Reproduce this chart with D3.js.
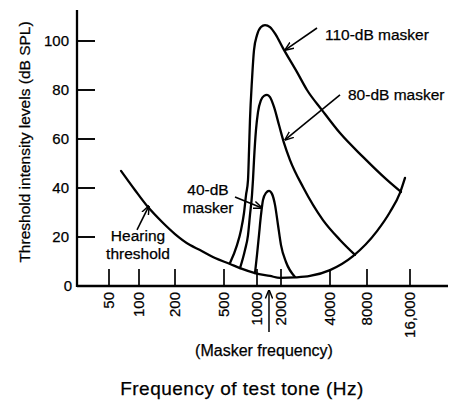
<!DOCTYPE html>
<html><head><meta charset="utf-8">
<script src="https://cdn.jsdelivr.net/npm/d3@7"></script>
<style>
html,body{margin:0;padding:0;background:#fff;}
text{font-family:"Liberation Sans",Arial,sans-serif;fill:#000;stroke:#000;stroke-width:0.25px;}
</style></head>
<body><svg id="chart" width="449" height="400"></svg>
<script>
// ---- data ----
const xTickValues = [50, 100, 200, 500, 1000, 2000, 4000, 8000, 16000];
const xTickLabels = ["50", "100", "200", "500", "1000", "2000", "4000", "8000", "16,000"];
const yTickValues = [0, 20, 40, 60, 80, 100];

// hearing threshold: [frequency Hz, dB SPL]
const thresholdFreq = [66, 91, 119, 156, 200, 265, 319, 423, 567, 700, 959, 1456, 1943, 2438, 3014, 4000, 6155, 9401, 11592, 13619, 14760];
const thresholdDb   = [47, 39.2, 32.2, 26.1, 21.2, 16.7, 14.7, 11.4, 9.0, 7.3, 5.3, 4.1, 3.3, 3.5, 4.1, 6.5, 12.2, 22.4, 30.2, 38.0, 44.1];

const masker110Freq = [567, 657, 715, 761, 794, 828, 846, 863, 900, 939, 1000, 1122, 1260, 1456, 1731, 2057, 2509, 2890, 3572, 4825, 7421, 11042, 13840];
const masker110Db   = [9.4, 16.7, 22.9, 29.8, 37.1, 43.3, 55.5, 67.8, 84.1, 96.3, 102.4, 105.7, 106.5, 105.7, 102.4, 97.1, 87.3, 80.0, 71.8, 62.4, 52.7, 43.3, 38.4];

const masker80Freq = [700, 777, 828, 863, 900, 919, 939, 979, 1029, 1122, 1224, 1335, 1456, 1634, 1888, 2086, 2272, 2730, 3622, 4825, 6391];
const masker80Db   = [7.3, 14.7, 20.8, 29.0, 37.1, 43.3, 51.4, 63.7, 71.0, 75.9, 77.6, 78.0, 77.1, 73.1, 65.7, 58.4, 51.4, 40.4, 26.9, 18.8, 12.7];

const masker40Freq = [959, 1000, 1059, 1122, 1189, 1297, 1414, 1542, 1682, 1834, 2000, 2146, 2438];
const masker40Db   = [5.3, 12.7, 20.8, 29.0, 35.1, 38.0, 38.8, 37.6, 33.1, 24.9, 16.7, 9.8, 3.7];

const maskerFrequency = 1414;

// annotations (data coordinates)
const labelTexts = [["110-dB masker"], ["80-dB masker"], ["40-dB", "masker"], ["Hearing", "threshold"]];
const labelFreq  = [3724, 5605, 371, 97.7];
const labelDb    = [100.4, 75.9, 37.1, 18.2];
const arrowFrom  = [[3329, 105.3], [4825, 78.0], [630, 36.3], [95.5, 22.9]];
const arrowTo    = [[2116, 96.3], [2116, 59.6], [1155, 31.8], [121.2, 32.7]];

// ---- layout ----
const svg = d3.select("#chart");
const x0 = 77, yBase = 286, yTop = 10, xEnd = 448;
const x = d3.scaleLog().domain(xTickValues)
  .range([109, 139, 175, 224, 257, 281, 330, 367, 410]);
const y = d3.scaleLinear().domain([0, 100]).range([yBase, 41]);

// marker
svg.append("defs").append("marker")
  .attr("id", "arr").attr("viewBox", "0 0 10 10").attr("refX", 9.5).attr("refY", 5)
  .attr("markerWidth", 9).attr("markerHeight", 9).attr("markerUnits", "userSpaceOnUse")
  .attr("orient", "auto")
  .append("path").attr("d", "M0,1 L10,5 L0,9").attr("fill", "none")
  .attr("stroke", "#000").attr("stroke-width", 1.6);

// axes lines
svg.append("line").attr("x1", x0).attr("x2", x0).attr("y1", yTop).attr("y2", yBase + 1)
  .attr("stroke", "#000").attr("stroke-width", 2.3);
svg.append("line").attr("x1", x0).attr("x2", xEnd).attr("y1", yBase).attr("y2", yBase)
  .attr("stroke", "#000").attr("stroke-width", 2.3);

// y ticks (inward) and labels
const yg = svg.append("g");
yg.selectAll("line").data(yTickValues.filter(d => d > 0)).join("line")
  .attr("x1", x0).attr("x2", x0 + 18).attr("y1", d => y(d)).attr("y2", d => y(d))
  .attr("stroke", "#000").attr("stroke-width", 1.9);
yg.selectAll("text").data(yTickValues).join("text")
  .attr("x", d => d === 0 ? 72 : 69).attr("y", d => y(d)).attr("dy", d => d === 0 ? "0.3em" : "0.36em")
  .attr("text-anchor", "end").attr("font-size", 15).text(d => d);

// x ticks (inward) and rotated labels
const xg = svg.append("g");
xg.selectAll("line").data(xTickValues).join("line")
  .attr("x1", d => x(d)).attr("x2", d => x(d)).attr("y1", yBase).attr("y2", yBase - 17)
  .attr("stroke", "#000").attr("stroke-width", 1.7);
xg.selectAll("text").data(xTickValues).join("text")
  .attr("transform", d => `translate(${x(d)},${yBase + 6}) rotate(-90)`)
  .attr("dy", "0.36em").attr("text-anchor", "end").attr("font-size", 15)
  .text((d, i) => xTickLabels[i]);

// curves
const line = d3.line().x(d => x(d[0])).y(d => y(d[1])).curve(d3.curveMonotoneX);
const series = [
  d3.zip(thresholdFreq, thresholdDb),
  d3.zip(masker110Freq, masker110Db),
  d3.zip(masker80Freq, masker80Db),
  d3.zip(masker40Freq, masker40Db)
];
svg.append("g").selectAll("path").data(series).join("path")
  .attr("d", line).attr("fill", "none").attr("stroke", "#000")
  .attr("stroke-width", 2.3).attr("stroke-linejoin", "round").attr("stroke-linecap", "round");

// annotation arrows
svg.append("g").selectAll("line").data(d3.range(arrowFrom.length)).join("line")
  .attr("x1", i => x(arrowFrom[i][0])).attr("y1", i => y(arrowFrom[i][1]))
  .attr("x2", i => x(arrowTo[i][0])).attr("y2", i => y(arrowTo[i][1]))
  .attr("stroke", "#000").attr("stroke-width", 1.6).attr("marker-end", "url(#arr)");

// annotation labels
const anchors = ["start", "start", "middle", "middle"];
labelTexts.forEach((lines, i) => {
  const t = svg.append("text").attr("x", x(labelFreq[i])).attr("y", y(labelDb[i]))
    .attr("text-anchor", anchors[i]).attr("font-size", 15.5);
  lines.forEach((s, j) => t.append("tspan").attr("x", x(labelFreq[i]))
    .attr("dy", j === 0 ? 0 : 18).text(s));
});

// masker frequency arrow
svg.append("line").attr("x1", x(maskerFrequency)).attr("x2", x(maskerFrequency))
  .attr("y1", 332).attr("y2", 290)
  .attr("stroke", "#000").attr("stroke-width", 1.5).attr("marker-end", "url(#arr)");
svg.append("text").attr("x", 264).attr("y", 356).attr("text-anchor", "middle")
  .attr("font-size", 16).text("(Masker frequency)");

// axis titles
svg.append("text").attr("transform", "translate(30,142) rotate(-90)")
  .attr("text-anchor", "middle").attr("font-size", 15.5)
  .text("Threshold intensity levels (dB SPL)");
svg.append("text").attr("x", 242).attr("y", 395).attr("text-anchor", "middle")
  .attr("font-size", 19).attr("letter-spacing", 0.5)
  .text("Frequency of test tone (Hz)");
</script></body></html>
